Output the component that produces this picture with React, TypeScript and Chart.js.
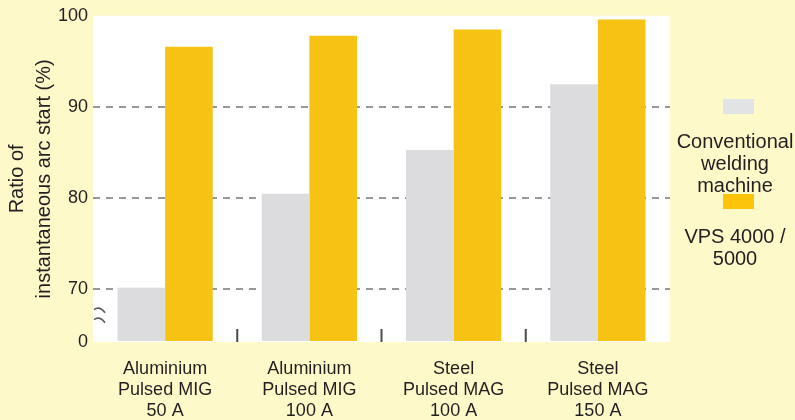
import { useEffect, useRef } from "react";
import { Chart, registerables } from "chart.js";

Chart.register(...registerables);

// Test conditions along the x axis (one line per array entry)
const categories = [
  ["Aluminium", "Pulsed MIG", "50 A"],
  ["Aluminium", "Pulsed MIG", "100 A"],
  ["Steel", "Pulsed MAG", "100 A"],
  ["Steel", "Pulsed MAG", "150 A"],
];

// Ratio of instantaneous arc start (%)
const conventional = [70.2, 80.5, 85.3, 92.5];
const vps = [96.6, 97.8, 98.5, 99.6];

const seriesNames = [
  ["Conventional", "welding", "machine"],
  ["VPS 4000 /", "5000"],
];

// Broken value axis: 0 at the bottom, then 70..100
const yTicks = [70, 80, 90, 100];
const dashedTicks = [70, 80, 90];
const axisFloor = 64.24;
const yTitle = ["Ratio of", "instantaneous arc start (%)"];

const BG = "#FEF9C9";
const TEXT = "#231f20";
const GREY = "#DCDCDE";
const ORANGE = "#F6C213";
const FONT = "'Liberation Sans', Arial, sans-serif";

const backdrop = {
  id: "backdrop",
  beforeDraw(chart: any) {
    const { ctx, width, height, chartArea } = chart;
    ctx.save();
    ctx.fillStyle = BG;
    ctx.fillRect(0, 0, width, height);
    ctx.fillStyle = "#ffffff";
    ctx.fillRect(chartArea.left, chartArea.top, chartArea.right - chartArea.left, chartArea.bottom - chartArea.top);
    ctx.restore();
  },
};

const axisMarks = {
  id: "axisMarks",
  afterDatasetsDraw(chart: any) {
    const { ctx, chartArea, scales } = chart;
    const x = scales.x;
    ctx.save();
    ctx.strokeStyle = "#4a4a4a";
    ctx.lineWidth = 2;
    // short separators between the groups at the base line
    for (let i = 1; i < categories.length; i++) {
      const px = (x.getPixelForValue(i - 1) + x.getPixelForValue(i)) / 2;
      ctx.beginPath();
      ctx.moveTo(px, chartArea.bottom - 13);
      ctx.lineTo(px, chartArea.bottom);
      ctx.stroke();
    }
    // axis break symbol between 0 and 70
    const y = scales.y;
    const mid = (y.getPixelForValue(axisFloor) + y.getPixelForValue(yTicks[0])) / 2;
    ctx.strokeStyle = "#5a5a5a";
    ctx.lineWidth = 1.6;
    for (const dy of [-5, 5]) {
      ctx.beginPath();
      ctx.moveTo(chartArea.left + 1, mid + dy - 1);
      ctx.bezierCurveTo(chartArea.left + 5, mid + dy - 4, chartArea.left + 9, mid + dy - 2, chartArea.left + 12, mid + dy + 2);
      ctx.stroke();
    }
    ctx.restore();
  },
};

const sideLegend = {
  id: "sideLegend",
  afterDraw(chart: any) {
    const { ctx, chartArea } = chart;
    const textX = chartArea.right + 65;
    const swatchX = chartArea.right + 53;
    let top = 99;
    ctx.save();
    ctx.font = `20px ${FONT}`;
    ctx.textAlign = "center";
    ctx.textBaseline = "middle";
    chart.data.datasets.forEach((ds: any, i: number) => {
      ctx.fillStyle = i === 0 ? "#E2E3E5" : "#FCC40A";
      ctx.fillRect(swatchX, top, 31, 15);
      let ly = top + 43;
      ctx.fillStyle = TEXT;
      for (const line of seriesNames[i]) {
        ctx.fillText(line, textX, ly);
        ly += 22;
      }
      top = ly - 14;
    });
    ctx.restore();
  },
};

export default function App() {
  const canvasRef = useRef<HTMLCanvasElement | null>(null);

  useEffect(() => {
    document.body.style.margin = "0";
    const canvas = canvasRef.current;
    if (!canvas) return;
    const chart = new Chart(canvas, {
      type: "bar",
      data: {
        labels: categories,
        datasets: [
          {
            label: seriesNames[0].join(" "),
            data: conventional,
            backgroundColor: GREY,
            borderWidth: 0,
            base: axisFloor,
          },
          {
            label: seriesNames[1].join(" "),
            data: vps,
            backgroundColor: ORANGE,
            borderWidth: 0,
            base: axisFloor,
          },
        ],
      },
      options: {
        responsive: false,
        animation: false,
        devicePixelRatio: 1,
        layout: { padding: { top: 13, right: 125, left: 0, bottom: 0 } },
        datasets: { bar: { categoryPercentage: 0.66, barPercentage: 1 } },
        plugins: {
          legend: { display: false },
          tooltip: { enabled: false },
        },
        scales: {
          x: {
            grid: { display: false, drawTicks: false },
            border: { display: false },
            ticks: {
              color: TEXT,
              font: { family: FONT, size: 18, lineHeight: 1.15 },
              padding: 17,
              maxRotation: 0,
              autoSkip: false,
            },
            afterFit(scale: any) {
              scale.height = 78;
            },
          },
          y: {
            min: axisFloor,
            max: 100,
            afterBuildTicks(scale: any) {
              scale.ticks = [axisFloor, ...yTicks].map((v) => ({ value: v }));
            },
            afterFit(scale: any) {
              scale.width = 93;
            },
            border: { display: false, dash: [7, 6] },
            grid: {
              drawTicks: false,
              lineWidth: 2,
              color: (c: any) =>
                c.tick && dashedTicks.includes(c.tick.value) ? "#9c9797" : "rgba(0,0,0,0)",
            },
            ticks: {
              color: TEXT,
              font: { family: FONT, size: 18 },
              padding: 5,
              callback: (v: any) => (v === axisFloor ? "0" : String(v)),
            },
            title: {
              display: true,
              text: yTitle,
              color: TEXT,
              font: { family: FONT, size: 20, lineHeight: 1.35 },
              padding: { top: 4, bottom: 0 },
            },
          },
        },
      },
      plugins: [backdrop, axisMarks, sideLegend],
    });
    return () => chart.destroy();
  }, []);

  return (
    <div style={{ width: 795, height: 420 }}>
      <canvas ref={canvasRef} width={795} height={420} style={{ display: "block" }} />
    </div>
  );
}
